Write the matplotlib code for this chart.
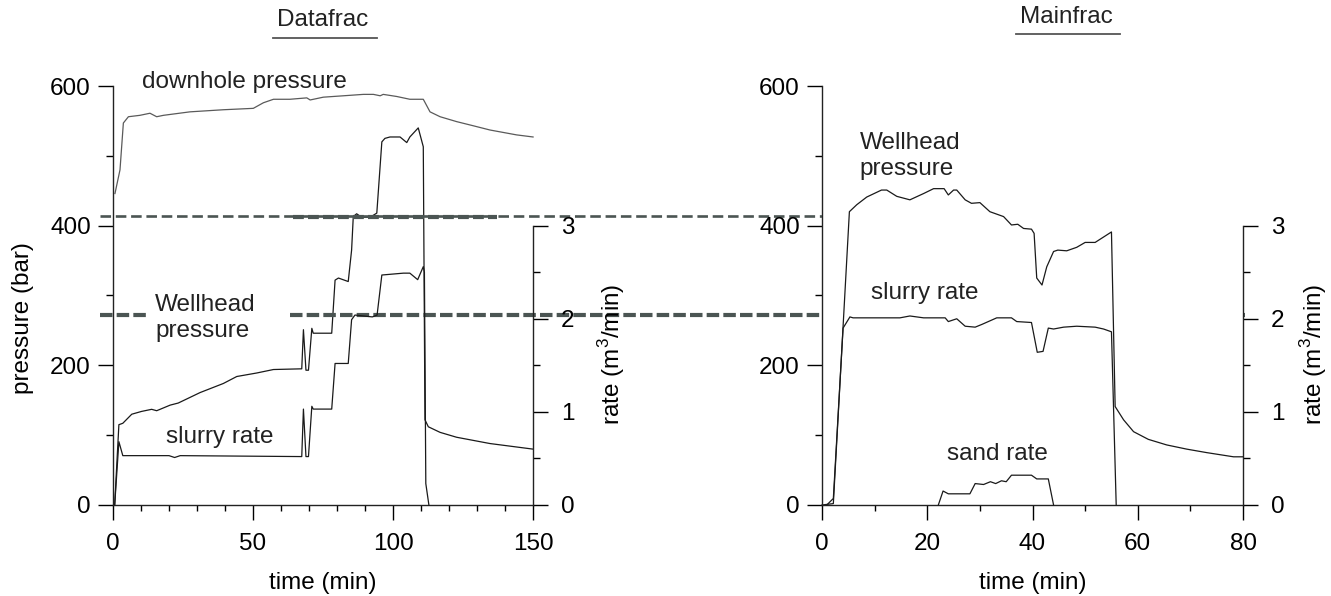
import matplotlib
matplotlib.use("Agg")
import matplotlib.pyplot as plt
from matplotlib.ticker import MultipleLocator
from matplotlib.transforms import blended_transform_factory

plt.rcParams['font.family'] = ['Liberation Sans', 'DejaVu Sans']
plt.rcParams['mathtext.fontset'] = 'custom'
plt.rcParams['mathtext.rm'] = 'Liberation Sans'
plt.rcParams['font.size'] = 17.5
plt.rcParams['text.color'] = '#222222'

# Datafrac: wellhead pressure (bar)
df_time_whp = [0.6, 2.1, 3.5, 6.7, 10.2, 13.8, 15.6, 20.4, 23.3, 31.1, 39.4, 44.2, 51.3, 57.3,
               67.4, 68.0, 68.9, 69.8, 71.0, 71.5, 78.1, 79.3, 80.5, 84.0, 85.2, 85.8, 87.0,
               88.8, 91.8, 94.2, 96.0, 97.1, 98.9, 102.5, 104.9, 106.0, 109.0, 110.8, 111.4,
               112.6, 116.8, 122.7, 134.6, 150]
df_whp = [0, 115, 117, 130, 134, 137, 135, 143, 146, 161, 174, 184, 189, 194,
          195, 251, 193, 193, 253, 246, 246, 322, 325, 320, 365, 413, 417,
          412, 412, 418, 520, 525, 527, 527, 519, 527, 540, 513, 122,
          112, 104, 97, 88, 80]

# Datafrac: downhole pressure (bar)
df_time_bhp = [0.7, 2.5, 3.7, 5.5, 9.6, 13.2, 15.6, 18, 27.5, 39.4, 50.1, 53.7, 57.3, 63.2,
               69.2, 70.4, 75.1, 82.3, 89.4, 93, 95.4, 96.5, 101.3, 106, 110.8, 113.2, 116.8,
               122.7, 128.7, 134.6, 144.1, 150]
df_bhp = [446, 480, 547, 556, 558, 561, 556, 558, 563, 566, 568, 576, 581, 581,
          583, 580, 584, 586, 588, 588, 586, 588, 585, 581, 581, 563, 556,
          549, 543, 537, 530, 527]

# Datafrac: slurry rate (m3/min)
df_time_rate = [0.6, 2.1, 3.5, 20, 22, 24, 67.4, 68.0, 68.9, 69.8, 71.0, 71.5, 78.1, 79.3,
                84.0, 85.2, 86.4, 92.6, 94.3, 96.0, 103.7, 106, 108.8, 110.8, 111.2, 111.7, 112.8]
df_rate = [0, 0.68, 0.53, 0.53, 0.51, 0.53, 0.52, 1.03, 0.52, 0.52, 1.06, 1.03, 1.03, 1.52,
           1.52, 1.99, 2.04, 2.02, 2.04, 2.47, 2.49, 2.49, 2.42, 2.56, 2.5, 0.23, 0]

# Mainfrac: wellhead pressure (bar)
mf_time_whp = [0, 2.15, 5.2, 6.6, 8.5, 11.3, 12.3, 14.2, 16.7, 19.3, 21.2, 23.2, 24.0, 25.0,
               25.6, 27.2, 28.4, 30.0, 31.9, 34.5, 36.0, 37.2, 38.3, 39.8, 40.3, 40.8, 41.8,
               42.7, 44.0, 44.8, 46.5, 48.4, 50.0, 51.9, 55.0, 55.7, 57.3, 59.2, 62.0, 65.5,
               69.3, 73.1, 78.2, 80]
mf_whp = [0, 2, 420, 430, 441, 451, 451, 442, 437, 446, 453, 453, 444, 451,
          451, 437, 432, 433, 420, 413, 401, 402, 396, 395, 389, 325, 315,
          341, 363, 365, 364, 369, 376, 376, 391, 141, 122, 105, 94, 86,
          80, 75, 69, 69]

# Mainfrac: slurry rate (m3/min)
mf_time_rate = [0.9, 2.15, 4.0, 5.3, 5.9, 14.8, 16.7, 19.3, 23.4, 24.0, 25.6, 27.2, 29.1, 30.4,
                33.2, 36.0, 37.0, 39.8, 40.9, 42.0, 43.0, 44.0, 45.9, 48.4, 51.9, 53.5, 55.0, 55.9]
mf_rate = [0, 0.07, 1.9, 2.02, 2.01, 2.01, 2.03, 2.01, 2.01, 1.97, 2.0, 1.92, 1.91, 1.94,
           2.01, 2.01, 1.97, 1.96, 1.64, 1.65, 1.9, 1.89, 1.91, 1.92, 1.91, 1.89, 1.86, 0]

# Mainfrac: sand rate (m3/min)
mf_time_sand = [22.1, 23.0, 24.0, 28.1, 29.1, 30.7, 32.0, 33.0, 34.1, 35.0, 36.0, 39.8, 40.8, 43.0, 44.0]
mf_sand = [0, 0.15, 0.12, 0.12, 0.23, 0.22, 0.25, 0.23, 0.26, 0.25, 0.32, 0.32, 0.28, 0.28, 0]

# reference dashed lines (bar)
ref_upper = 414
ref_lower = 272

LINE = '#1a1a1a'
GREY = '#5a5a5a'
DASH = '#4b5553'


def style_axes(ax, ax2, xmax, xmajor, xminor):
    ax.set_xlim(0, xmax)
    ax.set_ylim(0, 600)
    ax2.set_ylim(0, 4.5)
    for s in ['top', 'right']:
        ax.spines[s].set_visible(False)
    for s in ['top', 'left', 'bottom']:
        ax2.spines[s].set_visible(False)
    ax.spines['left'].set_bounds(0, 600)
    ax.spines['bottom'].set_bounds(0, xmax)
    ax2.spines['right'].set_bounds(0, 3)
    for sp in list(ax.spines.values()) + list(ax2.spines.values()):
        sp.set_linewidth(1.0)
        sp.set_color('#222222')
    ax.xaxis.set_major_locator(MultipleLocator(xmajor))
    ax.xaxis.set_minor_locator(MultipleLocator(xminor))
    ax.yaxis.set_major_locator(MultipleLocator(200))
    ax.yaxis.set_minor_locator(MultipleLocator(100))
    ax2.set_yticks([0, 1, 2, 3])
    ax2.set_yticks([0.5, 1.5, 2.5], minor=True)
    ax.tick_params(axis='x', which='major', direction='out', length=10.5, width=1, pad=10)
    ax.tick_params(axis='x', which='minor', direction='out', length=4.5, width=1)
    ax.tick_params(axis='y', which='major', direction='out', length=11, width=1, pad=5)
    ax.tick_params(axis='y', which='minor', direction='out', length=5, width=1)
    ax2.tick_params(axis='y', which='major', direction='out', length=11, width=1, pad=9)
    ax2.tick_params(axis='y', which='minor', direction='out', length=5, width=1)
    ax.set_xlabel('time (min)', labelpad=12)
    ax2.set_ylabel('rate (m$^{3}$/min)')


fig = plt.figure(figsize=(13.31, 5.96), dpi=100)

# Datafrac panel
ax1 = fig.add_axes([0.0849, 0.1527, 0.3156, 0.7030])
ax1b = ax1.twinx()
style_axes(ax1, ax1b, 150, 50, 10)
ax1.plot(df_time_bhp, df_bhp, color=GREY, lw=0.9, clip_on=False)
ax1.plot(df_time_whp, df_whp, color=LINE, lw=0.9, clip_on=False)
ax1b.plot(df_time_rate, df_rate, color=LINE, lw=0.9, clip_on=False)
ax1.set_ylabel('pressure (bar)')
ax1.yaxis.set_label_coords(-0.188, 0.446)
ax1b.yaxis.set_label_coords(1.15, 0.36)
ax1.text(10.4, 606, 'downhole pressure', ha='left', va='center')
ax1.text(15, 268, 'Wellhead\npressure', ha='left', va='center', linespacing=1.25)
ax1.text(18.9, 98, 'slurry rate', ha='left', va='center')
ax1.text(0.5, 1.1575, 'Datafrac', transform=ax1.transAxes, ha='center', va='center')
ax1.plot([0.381, 0.629], [1.1153, 1.1153], transform=ax1.transAxes, color='#555555',
         lw=1.3, clip_on=False)

# Mainfrac panel
ax2 = fig.add_axes([0.6176, 0.1527, 0.3163, 0.7030])
ax2b = ax2.twinx()
style_axes(ax2, ax2b, 80, 20, 10)
ax2.plot(mf_time_whp, mf_whp, color=LINE, lw=0.9, clip_on=False)
ax2b.plot(mf_time_rate, mf_rate, color=LINE, lw=0.9, clip_on=False)
ax2b.plot(mf_time_sand, mf_sand, color=LINE, lw=0.9, clip_on=False)
ax2b.yaxis.set_label_coords(1.132, 0.36)
ax2.text(7.2, 500, 'Wellhead\npressure', ha='left', va='center', linespacing=1.25)
ax2.text(9.3, 304, 'slurry rate', ha='left', va='center')
ax2.text(23.8, 73, 'sand rate', ha='left', va='center')
ax2.text(0.5796, 1.1647, 'Mainfrac', transform=ax2.transAxes, ha='center', va='center')
ax2.plot([0.4608, 0.7078], [1.124, 1.124], transform=ax2.transAxes, color='#555555',
         lw=1.3, clip_on=False)

# dashed reference lines running across both panels
tr = blended_transform_factory(fig.transFigure, ax1.transData)
ax1.plot([0.0751, 0.8768], [ref_upper, ref_upper], transform=tr, color=DASH, lw=1.9,
         dashes=(4.0, 1.8), clip_on=False)
for x0, x1 in [(0.2201, 0.3734), (0.6890, 0.8437)]:
    ax1.plot([x0, x1], [ref_upper - 1, ref_upper - 1], transform=tr, color=DASH, lw=3.0,
             dashes=(2.6, 1.0), clip_on=False)
for x0, x1 in [(0.0751, 0.1112), (0.2179, 0.9354)]:
    ax1.plot([x0, x1], [ref_lower, ref_lower], transform=tr, color=DASH, lw=3.0,
             dashes=(3.0, 1.0), clip_on=False)

fig.savefig('out.png', dpi=100)
